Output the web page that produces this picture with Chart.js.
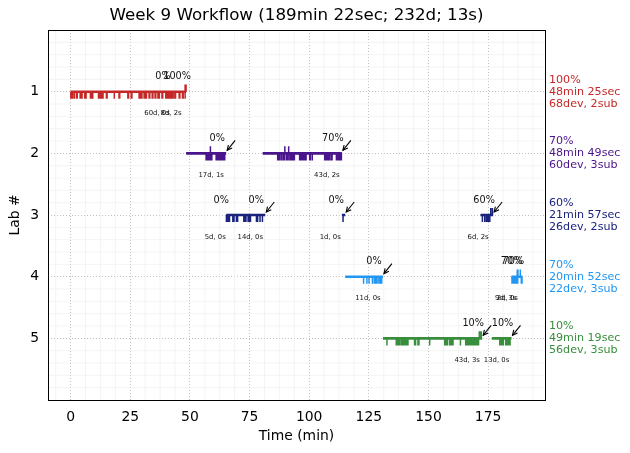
<!DOCTYPE html>
<html>
<head>
<meta charset="utf-8">
<script src="https://cdn.jsdelivr.net/npm/chart.js@4.4.1/dist/chart.umd.min.js"></script>
<style>
  html, body { margin: 0; padding: 0; background: #fff; }
  #wrap { width: 630px; height: 453px; }
</style>
</head>
<body>
<div id="wrap"><canvas id="chart"></canvas></div>
<script>
// ---- data ----
const chartTitle = "Week 9 Workflow (189min 22sec; 232d; 13s)";
const labs = [1, 2, 3, 4, 5];
const labColors = ["#c62828", "#4a148c", "#1a237e", "#2196f3", "#388e3c"];
const labScore = ["100%", "70%", "60%", "70%", "10%"];
const labTime = ["48min 25sec", "48min 49sec", "21min 57sec", "20min 52sec", "49min 19sec"];
const labCount = ["68dev, 2sub", "60dev, 3sub", "26dev, 2sub", "22dev, 3sub", "56dev, 3sub"];

// work segments (one row per segment)
const segLab   = [1, 1, 2, 2, 3, 3, 3, 3, 4, 4, 4, 5, 5];
const segStart = [0, 42.5, 48.42, 80.5, 65.2, 66.9, 113.7, 171.8, 115.1, 184.8, 188.6, 130.9, 176.5];
const segEnd   = [42.5, 48.42, 65.2, 113.7, 66.9, 81.6, 115.1, 177.1, 130.9, 188.6, 189.37, 172.5, 184.8];
const segScore = ["0%", "100%", "0%", "70%", "0%", "0%", "0%", "60%", "0%", "70%", "70%", "10%", "10%"];
const segDevs  = [60, 8, 17, 43, 5, 14, 1, 6, 11, 9, 2, 43, 13];
const segSubs  = [0, 2, 1, 2, 0, 0, 0, 2, 0, 3, 0, 3, 0];
const segArrow = [false, false, true, true, false, true, true, true, true, false, false, true, true];

// dev events (ticks below the bar) and submissions (ticks above), minutes
const lab1Devs = [0.1, 0.4, 0.7, 1.4, 1.6, 2.5, 2.8, 4.0, 4.3, 4.8, 5.9, 6.2, 6.5, 8.3, 8.6,
  9.0, 9.3, 11.7, 12.0, 12.6, 12.9, 13.3, 13.6, 15.0, 15.3, 18.3, 20.3, 20.6, 24.0, 24.3,
  25.4, 25.7, 28.7, 29.0, 29.6, 29.9, 30.8, 31.1, 31.5, 31.8, 32.9, 33.2, 34.2, 34.5, 35.4,
  35.7, 36.6, 36.9, 37.2, 38.3, 38.6, 39.9, 40.2, 40.5, 41.0, 41.3, 41.6, 42.0, 42.2, 42.4,
  43.0, 43.7, 44.0, 45.5, 45.8, 46.9, 47.2, 48.0];
const lab1Subs = [48.0, 48.4];
const lab2Devs = [56.8, 57.1, 57.4, 58.0, 58.3, 58.9, 59.2, 61.0, 61.3, 61.7, 62.3, 62.7, 63.2,
  63.6, 63.9, 64.3, 64.6,
  86.8, 87.2, 87.6, 88.3, 89.0, 89.6, 90.4, 90.8, 91.2, 91.9, 92.3, 92.8, 93.4, 93.8, 96.0,
  96.3, 96.6, 96.9, 97.2, 97.5, 97.8, 98.1, 98.4, 98.7, 100.2, 100.5, 101.3, 106.5, 106.8,
  107.4, 108.0, 108.5, 109.2, 109.6, 111.4, 111.7, 112.0, 112.3, 112.7, 113.0, 113.3, 113.5];
const lab2Subs = [58.6, 89.8, 91.4];
const lab3Devs = [65.3, 65.6, 65.9, 66.2, 66.6,
  68.0, 68.5, 69.5, 70.0, 72.6, 73.0, 73.5, 74.4, 75.0, 75.4, 77.9, 78.4, 79.4, 80.4,
  114.2,
  172.6, 173.6, 174.3, 174.8, 175.2, 175.7];
const lab3Subs = [176.1, 176.8];
const lab4Devs = [122.8, 124.2, 125.1, 126.5, 127.3, 127.8, 128.2, 128.9, 129.6, 130.0, 130.4,
  185.0, 185.3, 185.6, 185.9, 186.2, 186.5, 186.8, 187.1, 187.4,
  188.9, 189.2];
const lab4Subs = [187.2, 187.5, 188.5];
const lab5Devs = [132.6, 136.5, 137.0, 137.5, 137.9, 138.6, 139.0, 139.4, 139.8, 140.2, 140.6,
  141.0, 141.4, 144.2, 144.6, 145.6, 146.0, 150.5, 156.8, 157.2, 157.6, 158.0, 158.9, 159.4,
  159.9, 160.3, 163.4, 165.6, 166.0, 166.4, 166.8, 167.2, 167.6, 168.0, 168.4, 168.8, 169.2,
  169.5, 169.8, 170.1, 170.4, 170.7, 171.0,
  179.9, 180.2, 180.5, 180.8, 181.1, 181.4, 182.4, 182.7, 183.0, 183.3, 183.6, 183.9, 184.2];
const lab5Subs = [171.3, 171.7, 172.1];

const devTimes = [lab1Devs, lab2Devs, lab3Devs, lab4Devs, lab5Devs];
const subTimes = [lab1Subs, lab2Subs, lab3Subs, lab4Subs, lab5Subs];

const xMin = -9.47, xMax = 198.84;
const TICK = 0.115;          // tick length in lab units
const FONT = "'DejaVu Sans', sans-serif";

// ---- build line datasets; nulls break the line into pieces ----
function segmentPoints(lab) {
  const pts = [];
  segLab.forEach((l, i) => {
    if (l === lab) {
      pts.push({ x: segStart[i], y: lab }, { x: segEnd[i], y: lab }, { x: segEnd[i], y: null });
    }
  });
  return pts;
}

function tickPoints(times, lab, dy) {
  const pts = [];
  times.forEach(t => {
    pts.push({ x: t, y: lab }, { x: t, y: lab + dy }, { x: t, y: null });
  });
  return pts;
}

const datasets = [];
labs.forEach((lab, i) => {
  const base = {
    borderColor: labColors[i], pointRadius: 0, spanGaps: false,
    tension: 0, borderCapStyle: "butt", fill: false
  };
  datasets.push({ ...base, data: segmentPoints(lab), borderWidth: 2.6 });
  datasets.push({ ...base, data: tickPoints(devTimes[i], lab, TICK), borderWidth: 1.5 });
  datasets.push({ ...base, data: tickPoints(subTimes[i], lab, -TICK), borderWidth: 1.5 });
});

// light minor grid behind the data
const minorGrid = {
  id: "minorGrid",
  beforeDatasetsDraw(chart) {
    const { ctx, chartArea: a, scales: { x, y } } = chart;
    ctx.save();
    ctx.strokeStyle = "#ececec";
    ctx.lineWidth = 0.6;
    for (let v = -6.25; v < xMax; v += 6.25) {
      if (v < xMin || Math.abs(v % 25) < 1e-6) continue;
      const px = x.getPixelForValue(v);
      ctx.beginPath(); ctx.moveTo(px, a.top); ctx.lineTo(px, a.bottom); ctx.stroke();
    }
    for (let v = 0.2; v < 6; v += 0.2) {
      if (Math.abs(v - Math.round(v)) < 1e-6) continue;
      const py = y.getPixelForValue(v);
      ctx.beginPath(); ctx.moveTo(a.left, py); ctx.lineTo(a.right, py); ctx.stroke();
    }
    ctx.restore();
  }
};

// frame, arrows and segment labels
const segLabels = {
  id: "segLabels",
  afterDatasetsDraw(chart) {
    const { ctx, chartArea: a, scales: { x, y } } = chart;
    ctx.save();
    segLab.forEach((lab, i) => {
      const ex = x.getPixelForValue(segEnd[i]);
      const ey = y.getPixelForValue(lab);
      ctx.fillStyle = "#111";
      ctx.textAlign = "center";
      ctx.textBaseline = "middle";
      ctx.font = "9.7px " + FONT;
      ctx.fillText(segScore[i], ex - 9, ey - 15);
      ctx.font = "6.9px " + FONT;
      ctx.fillText(segDevs[i] + "d, " + segSubs[i] + "s", ex - 15, ey + 22);
      if (segArrow[i]) {
        const tx = ex + 9, ty = ey - 13, hx = ex + 1, hy = ey - 3;
        const ang = Math.atan2(hy - ty, hx - tx);
        ctx.strokeStyle = "#000";
        ctx.lineWidth = 1.1;
        ctx.beginPath(); ctx.moveTo(tx, ty); ctx.lineTo(hx, hy); ctx.stroke();
        ctx.beginPath();
        ctx.moveTo(hx - 5.5 * Math.cos(ang - 0.45), hy - 5.5 * Math.sin(ang - 0.45));
        ctx.lineTo(hx, hy);
        ctx.lineTo(hx - 5.5 * Math.cos(ang + 0.45), hy - 5.5 * Math.sin(ang + 0.45));
        ctx.stroke();
      }
    });
    ctx.strokeStyle = "#000";
    ctx.lineWidth = 1;
    ctx.strokeRect(Math.round(a.left) + 0.5, Math.round(a.top) + 0.5,
      Math.round(a.right - a.left), Math.round(a.bottom - a.top));
    ctx.restore();
  }
};

const gridOpts = { color: "#b0b0b0", lineWidth: 0.8, drawTicks: false };
const dotted = { display: false, dash: [1, 2] };

new Chart(document.getElementById("chart"), {
  type: "line",
  data: { datasets },
  options: {
    responsive: true,
    maintainAspectRatio: false,
    animation: false,
    events: [],
    layout: { padding: 0 },
    plugins: {
      legend: { display: false },
      tooltip: { enabled: false },
      title: {
        display: true, text: chartTitle, color: "#000", fullSize: false,
        font: { family: FONT, size: 16.7, weight: "normal" },
        padding: { top: 6, bottom: 4 }
      }
    },
    scales: {
      x: {
        type: "linear", min: xMin, max: xMax,
        grid: gridOpts, border: dotted,
        ticks: {
          stepSize: 25, includeBounds: false, color: "#000", padding: 9,
          font: { family: FONT, size: 13.9 }
        },
        title: {
          display: true, text: "Time (min)", color: "#000",
          font: { family: FONT, size: 13.9 }, padding: { top: 4, bottom: 8.5 }
        },
        afterFit: s => { s.height = 53; }
      },
      y: {
        type: "linear", min: 0, max: 6, reverse: true,
        grid: gridOpts, border: dotted,
        ticks: {
          stepSize: 1, color: "#000", padding: 9,
          font: { family: FONT, size: 13.9 },
          callback: v => (v >= 1 && v <= 5 ? String(v) : "")
        },
        title: {
          display: true, text: "Lab #", color: "#000",
          font: { family: FONT, size: 13.9 }, padding: { top: 7.5, bottom: 0 }
        },
        afterFit: s => { s.width = 48; }
      },
      y2: {
        type: "linear", position: "right", min: 0, max: 6, reverse: true, display: true,
        grid: { display: false, drawTicks: false }, border: { display: false },
        ticks: {
          stepSize: 1, padding: 4,
          font: { family: FONT, size: 11.1, lineHeight: 1.08 },
          color: ctx => labColors[(ctx.tick && ctx.tick.value ? ctx.tick.value : 1) - 1] || "#000",
          callback: v => (v >= 1 && v <= 5 ? [labScore[v - 1], labTime[v - 1], labCount[v - 1]] : "")
        },
        afterFit: s => { s.width = 85; }
      }
    }
  },
  plugins: [minorGrid, segLabels]
});
</script>
</body>
</html>
